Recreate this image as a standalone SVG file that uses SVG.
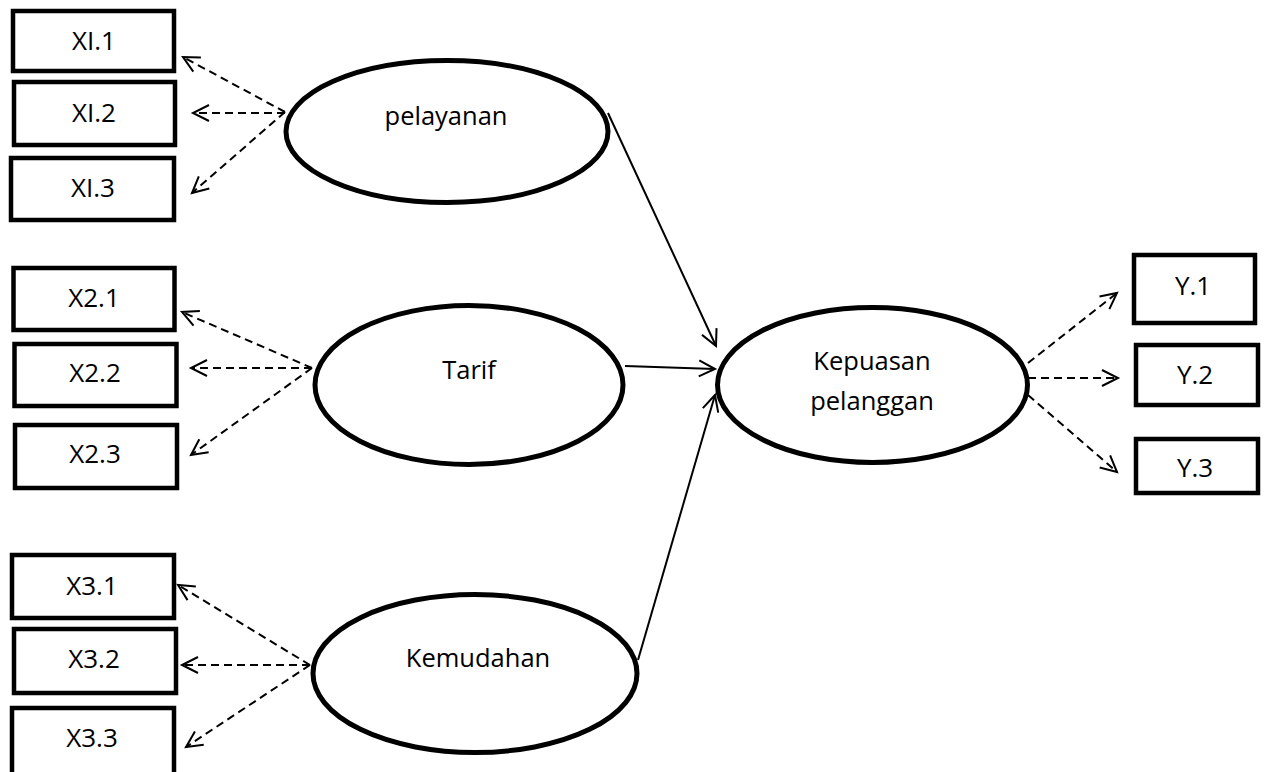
<svg xmlns="http://www.w3.org/2000/svg" width="1264" height="772" viewBox="0 0 1264 772">
<style>
.box{fill:#fff;stroke:#000;stroke-width:4.5}
.ell{fill:#fff;stroke:#000;stroke-width:5}
.t{font-family:"Open Sans","Liberation Sans",sans-serif;font-size:25.5px;fill:#000;text-anchor:middle}
.bt{font-family:"Open Sans","Liberation Sans",sans-serif;font-size:26px;fill:#000;text-anchor:middle}
.dash{fill:none;stroke:#000;stroke-width:2;stroke-dasharray:8 5;marker-end:url(#arr)}
.solid{fill:none;stroke:#000;stroke-width:2;marker-end:url(#arr)}
</style>
<defs>
<marker id="arr" markerUnits="userSpaceOnUse" markerWidth="22" markerHeight="22" viewBox="0 0 22 22" refX="19" refY="11" orient="auto">
<path d="M3,3 L19,11 L3,19" fill="none" stroke="#000" stroke-width="2"/>
</marker>
</defs>
<rect width="1264" height="772" fill="#fff"/>
<g id="connectors">
<line class="dash" x1="285" y1="112" x2="183" y2="57"/>
<line class="dash" x1="285" y1="113" x2="193" y2="113"/>
<line class="dash" x1="285" y1="112" x2="192" y2="193"/>
<line class="dash" x1="312" y1="368" x2="182" y2="312"/>
<line class="dash" x1="312" y1="368" x2="191" y2="368"/>
<line class="dash" x1="312" y1="368" x2="191" y2="455"/>
<line class="dash" x1="310" y1="665" x2="178" y2="585"/>
<line class="dash" x1="310" y1="665" x2="182" y2="665"/>
<line class="dash" x1="310" y1="665" x2="186" y2="747"/>
<line class="dash" x1="1028" y1="363" x2="1117" y2="293"/>
<line class="dash" x1="1028" y1="378" x2="1118" y2="378"/>
<line class="dash" x1="1028" y1="395" x2="1117" y2="472"/>
<line class="solid" x1="608" y1="113" x2="716" y2="346"/>
<line class="solid" x1="625" y1="366" x2="715" y2="369"/>
<line class="solid" x1="638" y1="660" x2="715" y2="395"/>
</g>
<g id="XI1"><rect class="box" x="13" y="11" width="161" height="60"/><text class="bt" x="94" y="50">XI.1</text></g>
<g id="XI2"><rect class="box" x="14" y="82" width="161" height="63"/><text class="bt" x="94" y="122">XI.2</text></g>
<g id="XI3"><rect class="box" x="11" y="158" width="163" height="62"/><text class="bt" x="93" y="197">XI.3</text></g>
<g id="X21"><rect class="box" x="13.5" y="268" width="161" height="62"/><text class="bt" x="94" y="307">X2.1</text></g>
<g id="X22"><rect class="box" x="14.5" y="344" width="162" height="62"/><text class="bt" x="95" y="382">X2.2</text></g>
<g id="X23"><rect class="box" x="15" y="425" width="162" height="63"/><text class="bt" x="95" y="463">X2.3</text></g>
<g id="X31"><rect class="box" x="12" y="555" width="162" height="63"/><text class="bt" x="92" y="595">X3.1</text></g>
<g id="X32"><rect class="box" x="14" y="629" width="162" height="64"/><text class="bt" x="94" y="668">X3.2</text></g>
<g id="X33"><rect class="box" x="12" y="708" width="162" height="72"/><text class="bt" x="92" y="747">X3.3</text></g>
<g id="Y1"><rect class="box" x="1134" y="255" width="121" height="68"/><text class="bt" x="1193" y="295">Y.1</text></g>
<g id="Y2"><rect class="box" x="1136" y="345" width="122" height="60"/><text class="bt" x="1195" y="384">Y.2</text></g>
<g id="Y3"><rect class="box" x="1136" y="439" width="122" height="54"/><text class="bt" x="1195" y="477">Y.3</text></g>
<g id="pelayanan"><ellipse class="ell" cx="447" cy="131.5" rx="161" ry="71"/><text class="t" x="446" y="125">pelayanan</text></g>
<g id="tarif"><ellipse class="ell" cx="469" cy="385" rx="154" ry="79.5"/><text class="t" x="469" y="379">Tarif</text></g>
<g id="kemudahan"><ellipse class="ell" cx="475" cy="673.5" rx="162" ry="79"/><text class="t" x="478" y="667">Kemudahan</text></g>
<g id="kepuasan"><ellipse class="ell" cx="872.5" cy="385" rx="155" ry="77.5"/><text class="t" x="872" y="370">Kepuasan</text><text class="t" x="872" y="410">pelanggan</text></g>
</svg>
